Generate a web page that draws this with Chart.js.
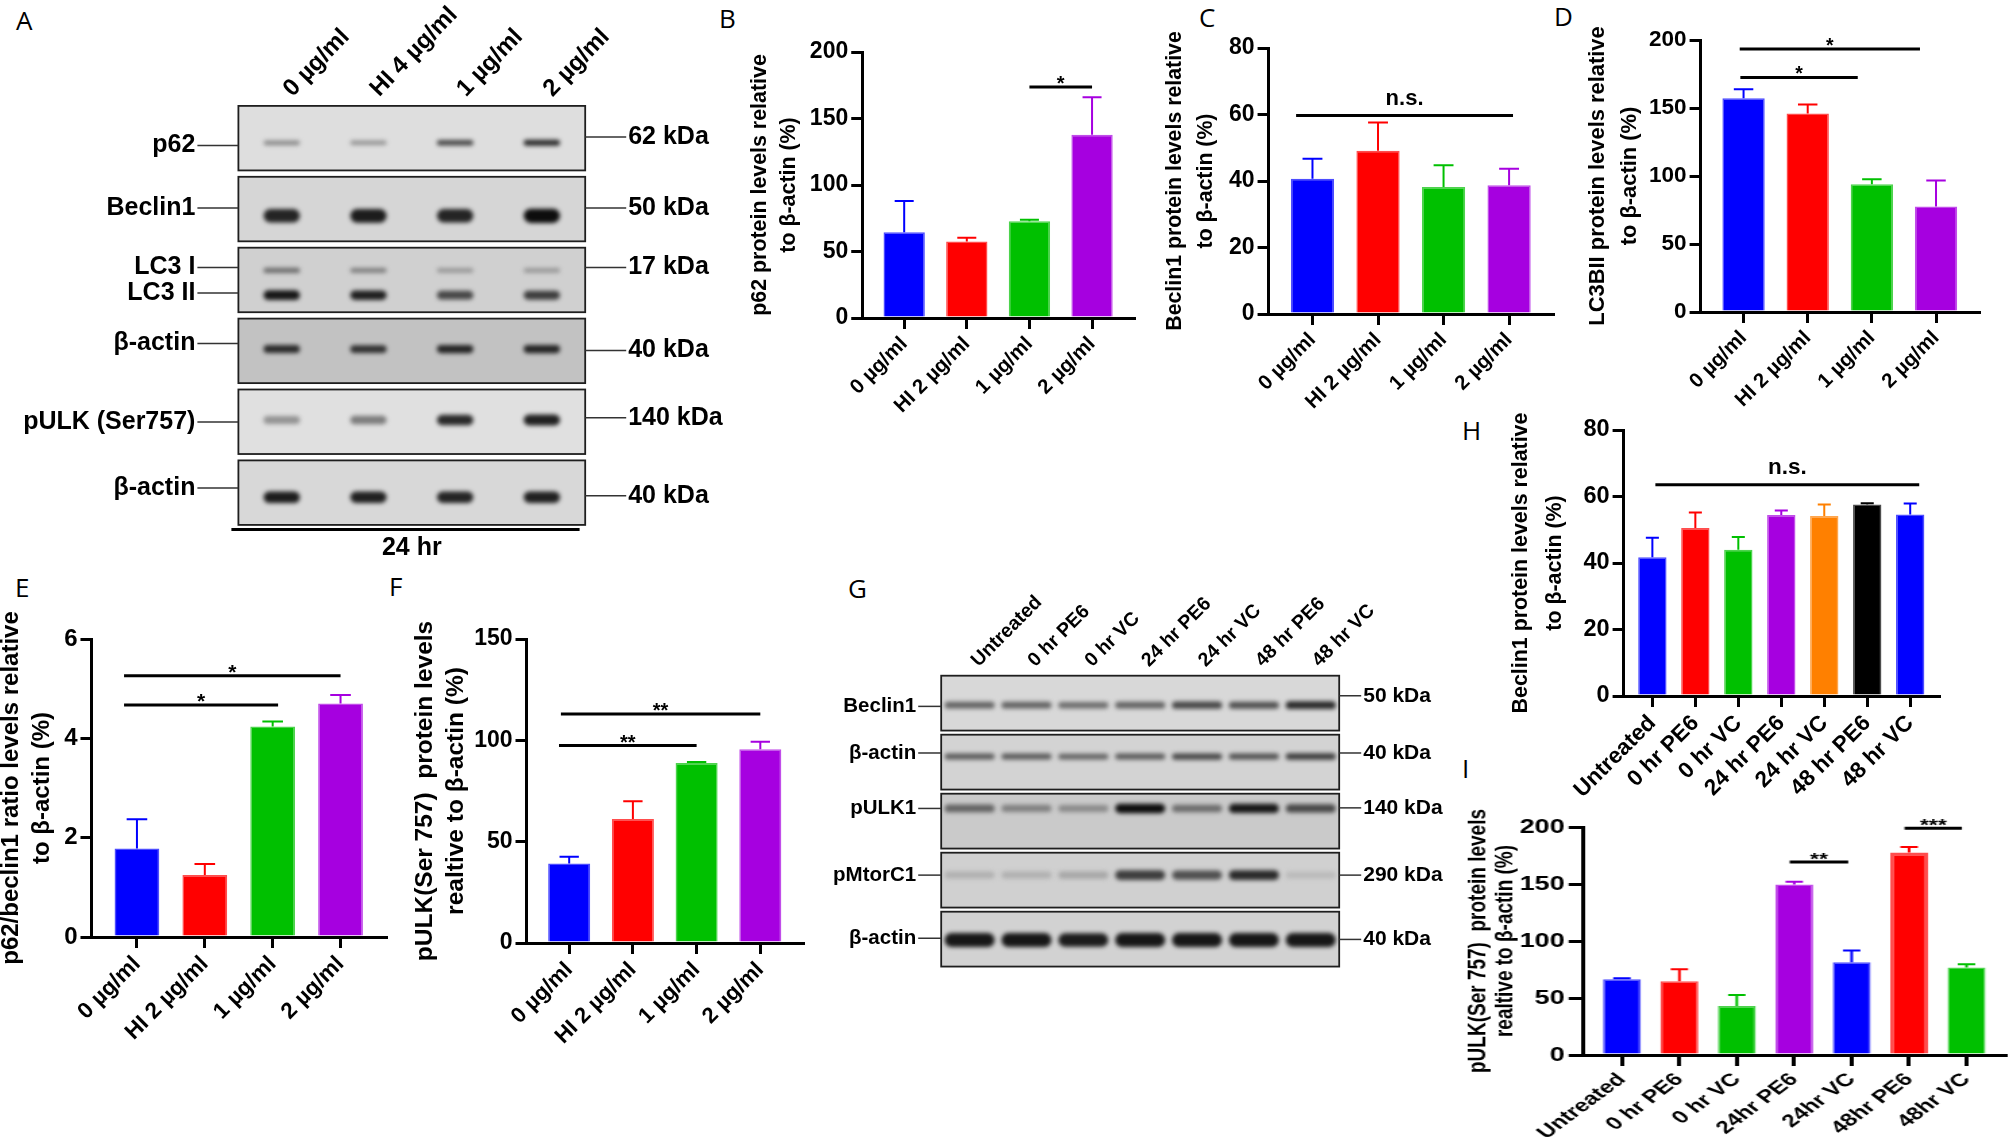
<!DOCTYPE html>
<html>
<head>
<meta charset="utf-8">
<script src="https://cdn.jsdelivr.net/npm/chart.js@4.4.1/dist/chart.umd.min.js"></script>
<style>
  html, body { margin: 0; padding: 0; width: 2008px; height: 1142px; overflow: hidden; background: #fff; }
  .letter { position: absolute; font-family: "Open Sans", sans-serif; font-size: 26px; line-height: 26px; color: #000; }
</style>
</head>
<body>
<div class="letter" style="left:16px;top:7px">A</div>
<div class="letter" style="left:719px;top:5px">B</div>
<div class="letter" style="left:1199px;top:4px">C</div>
<div class="letter" style="left:1554px;top:3px">D</div>
<div class="letter" style="left:15px;top:574px">E</div>
<div class="letter" style="left:389px;top:573px">F</div>
<div class="letter" style="left:848px;top:575px">G</div>
<div class="letter" style="left:1462px;top:417px">H</div>
<div class="letter" style="left:1462px;top:755px">I</div>
<script>
// ---- categories ----
const doseLabels = ["0 µg/ml", "HI 2 µg/ml", "1 µg/ml", "2 µg/ml"];
const timeLabelsH = ["Untreated", "0 hr PE6", "0 hr VC", "24 hr PE6", "24 hr VC", "48 hr PE6", "48 hr VC"];
const timeLabelsI = ["Untreated", "0 hr PE6", "0 hr VC", "24hr PE6", "24hr VC", "48hr PE6", "48hr VC"];

// ---- bar means and upper error ----
const p62Mean = [64.4, 57.6, 72.7, 137.8];
const p62Err = [23.6, 2.8, 1.2, 28.1];
const beclinMean = [40.7, 49.1, 38.2, 38.7];
const beclinErr = [6.0, 8.5, 6.5, 5.0];
const lc3Mean = [157.1, 146.0, 94.0, 77.5];
const lc3Err = [6.7, 6.6, 3.7, 19.1];
const ratioMean = [1.78, 1.25, 4.24, 4.70];
const ratioErr = [0.59, 0.22, 0.10, 0.17];
const pulkMean = [39.2, 61.2, 88.8, 95.6];
const pulkErr = [3.4, 8.7, 0.5, 3.7];
const beclinTimeMean = [41.7, 50.5, 44.0, 54.4, 54.1, 57.6, 54.6];
const beclinTimeErr = [5.9, 4.7, 3.8, 1.4, 3.5, 0.4, 3.3];
const pulkTimeMean = [66.5, 64.7, 43.0, 149.6, 81.4, 177.7, 76.7];
const pulkTimeErr = [0.8, 10.6, 9.7, 2.4, 10.3, 4.7, 2.9];

// ---- significance bars: [from, to, value, label] ----
const p62Sig = [[2, 3, 173.7, "*"]];
const beclinSig = [[-0.25, 3.06, 59.7, "n.s."]];
const lc3Sig = [[-0.05, 1.78, 172.5, "*"], [-0.06, 2.75, 193.4, "*"]];
const ratioSig = [[-0.19, 2.08, 4.67, "*"], [-0.19, 3.0, 5.26, "*"]];
const pulkSig = [[-0.16, 2.0, 97.4, "**"], [-0.13, 3.0, 113.0, "**"]];
const beclinTimeSig = [[0.07, 6.21, 63.5, "n.s."]];
const pulkTimeSig = [[2.92, 3.94, 169.3, "**"], [4.92, 5.92, 198.8, "***"]];

// ---- tick values ----
const ticks200 = [0, 50, 100, 150, 200];
const ticks150 = [0, 50, 100, 150];
const ticks80 = [0, 20, 40, 60, 80];
const ticks6 = [0, 2, 4, 6];

// ---- western blots: lanes, bands and relative band intensity ----
const blotALanes = ["0 µg/ml", "HI 4 µg/ml", "1 µg/ml", "2 µg/ml"];
const blotARows = ["p62", "Beclin1", "LC3 I", "LC3 II", "β-actin", "pULK (Ser757)", "β-actin"];
const blotAKda = ["62 kDa", "50 kDa", "17 kDa", "", "40 kDa", "140 kDa", "40 kDa"];
const p62BandA = [0.35, 0.3, 0.7, 0.85];
const beclinBandA = [0.88, 0.92, 0.88, 1.0];
const lc3iBandA = [0.5, 0.42, 0.28, 0.28];
const lc3iiBandA = [0.95, 0.9, 0.7, 0.75];
const actinBandA1 = [0.85, 0.82, 0.88, 0.88];
const pulkBandA = [0.3, 0.42, 0.85, 0.9];
const actinBandA2 = [0.92, 0.9, 0.88, 0.9];

const blotGLanes = ["Untreated", "0 hr PE6", "0 hr VC", "24 hr PE6", "24 hr VC", "48 hr PE6", "48 hr VC"];
const blotGRows = ["Beclin1", "β-actin", "pULK1", "pMtorC1", "β-actin"];
const blotGKda = ["50 kDa", "40 kDa", "140 kDa", "290 kDa", "40 kDa"];
const beclinBandG = [0.55, 0.55, 0.5, 0.55, 0.7, 0.65, 0.85];
const actinBandG1 = [0.6, 0.6, 0.55, 0.6, 0.7, 0.65, 0.75];
const pulk1BandG = [0.55, 0.4, 0.35, 1.0, 0.5, 0.95, 0.7];
const mtorBandG = [0.15, 0.15, 0.2, 0.75, 0.65, 0.85, 0.1];
const actinBandG2 = [0.95, 0.95, 0.92, 0.95, 0.95, 0.95, 0.95];

// ---- colours ----
const doseColors = ["#0000ff", "#ff0000", "#00c000", "#a600e0"];
const timeColorsH = ["#0000ff", "#ff0000", "#00c000", "#a600e0", "#ff8000", "#000000", "#0000ff"];
const timeColorsI = ["#0000ff", "#ff0000", "#00c000", "#a600e0", "#0000ff", "#ff0000", "#00c000"];

const FONT = '"Liberation Sans", Arial, Helvetica, sans-serif';
Chart.defaults.font.family = FONT;
Chart.defaults.color = "#000";

function makeCanvas(left, top, w, h, stretch) {
    const c = document.createElement("canvas");
    c.width = Math.round(w);
    c.height = Math.round(h);
    c.style.cssText = `position:absolute;left:${left}px;top:${top}px;width:${Math.round(w)}px;height:${Math.round(h)}px;` +
        (stretch && stretch !== 1 ? `transform:scaleX(${stretch});transform-origin:0 0;` : "");
    document.body.appendChild(c);
    return c;
}

function tint(hex, k) {
    const n = parseInt(hex.slice(1), 16);
    const mix = (v) => Math.round(v + (255 - v) * k);
    return `rgb(${mix(n >> 16)},${mix((n >> 8) & 255)},${mix(n & 255)})`;
}

function blotText(ctx, text, x, y, size, align, angle) {
    ctx.save();
    ctx.translate(x, y);
    if (angle) ctx.rotate(-angle * Math.PI / 180);
    ctx.font = `bold ${size}px ${FONT}`;
    ctx.textAlign = align;
    ctx.textBaseline = "middle";
    ctx.fillStyle = "#000";
    ctx.fillText(text, 0, 0);
    ctx.restore();
}

// one GraphPad-style bar graph with error bars and significance lines
function barPanel(cfg) {
    const { labels, means, errors, colors, ticks, sig, title, box, fonts } = cfg;
    const n = labels.length;
    const s = box.stretch || 1;
    const lineH = fonts.title * fonts.titleLH;
    const padTop = 60;
    const left = box.titleX - s * lineH / 2;
    const top = box.yTop - padTop;
    const width = (box.axisRight - left) / s + 6;
    const height = Math.min(box.yBottom - top + 130, 1142 - top);
    const yAxisW = (box.axisLeft - left) / s;
    const xAxisH = height - (box.yBottom - top);
    const canvas = makeCanvas(left, top, width, height, s);

    const marks = {
        id: "marks",
        afterDatasetsDraw(chart) {
            const { ctx, scales: { x, y } } = chart;
            const meta = chart.getDatasetMeta(0);
            ctx.save();
            ctx.lineWidth = 2;
            meta.data.forEach((bar, i) => {
                const yErr = y.getPixelForValue(means[i] + errors[i]);
                const cap = bar.width * 0.23;
                ctx.strokeStyle = colors[i];
                ctx.beginPath();
                ctx.moveTo(bar.x, bar.y);
                ctx.lineTo(bar.x, yErr);
                ctx.moveTo(bar.x - cap, yErr);
                ctx.lineTo(bar.x + cap, yErr);
                ctx.stroke();
            });
            ctx.strokeStyle = "#000";
            ctx.fillStyle = "#000";
            ctx.lineWidth = 3;
            ctx.textAlign = "center";
            ctx.textBaseline = "alphabetic";
            sig.forEach(([from, to, v, label]) => {
                const yy = y.getPixelForValue(v);
                const x1 = x.getPixelForValue(from);
                const x2 = x.getPixelForValue(to);
                ctx.beginPath();
                ctx.moveTo(x1, yy);
                ctx.lineTo(x2, yy);
                ctx.stroke();
                const star = label.startsWith("*");
                const size = star ? fonts.tick - 3 : fonts.tick - 1;
                ctx.font = `bold ${size}px ${FONT}`;
                ctx.fillText(label, (x1 + x2) / 2, star ? yy + 0.15 * size : yy - 0.48 * size);
            });
            ctx.restore();
        }
    };

    const axisGrid = (len) => ({ drawOnChartArea: false, drawTicks: true, tickLength: len, lineWidth: 3, color: "#000", offset: false });

    new Chart(canvas, {
        type: "bar",
        data: {
            datasets: [{
                data: means.map((v, i) => ({ x: i, y: v })),
                backgroundColor: colors,
                borderColor: colors.map((c) => tint(c, 0.3)),
                borderWidth: cfg.borderWidths || 1.5,
                barPercentage: 0.66,
                categoryPercentage: 1
            }]
        },
        options: {
            responsive: false,
            animation: false,
            layout: { padding: { top: padTop, right: 6, left: 0, bottom: 0 } },
            plugins: { legend: { display: false }, tooltip: { enabled: false } },
            scales: {
                x: {
                    type: "linear",
                    min: -0.67,
                    max: n - 1 + 0.67,
                    offset: false,
                    z: 1,
                    afterBuildTicks: (sc) => { sc.ticks = labels.map((_, i) => ({ value: i })); },
                    afterFit: (sc) => { sc.height = xAxisH; },
                    ticks: {
                        autoSkip: false,
                        minRotation: 45,
                        maxRotation: 45,
                        padding: 3,
                        color: "#000",
                        font: { size: fonts.xlabel, weight: "bold" },
                        callback: (v) => labels[v]
                    },
                    grid: axisGrid(11),
                    border: { width: 3, color: "#000" }
                },
                y: {
                    min: ticks[0],
                    max: ticks[ticks.length - 1],
                    z: 1,
                    afterBuildTicks: (sc) => { sc.ticks = ticks.map((v) => ({ value: v })); },
                    afterFit: (sc) => { sc.width = yAxisW; },
                    ticks: { padding: 3, color: "#000", font: { size: fonts.tick, weight: "bold" } },
                    title: {
                        display: true,
                        text: title,
                        color: "#000",
                        padding: 0,
                        font: { size: fonts.title, weight: "bold", lineHeight: fonts.titleLH }
                    },
                    grid: axisGrid(11),
                    border: { width: 3, color: "#000" }
                }
            }
        },
        plugins: [marks]
    });
}

function bandGray(v) {
    const g = Math.round(205 - 192 * v);
    return `rgb(${g},${g},${g})`;
}

// western blot strips: bands are floating bars on lane / strip scales
function blotPanel(cfg) {
    const b = cfg.box;
    const nStrips = cfg.stripColors.length;
    const yMax = nStrips - 1 + cfg.stripH;
    const areaBottom = b.areaTop + yMax * b.unit;
    const canvas = makeCanvas(b.left, b.top, b.width, b.height);

    const datasets = cfg.bands.map((row, r) => ({
        data: row.map((v, i) => {
            const c = cfg.strip[r] + cfg.frac[r];
            const half = cfg.thick[r] * (0.6 + 0.4 * v) / 2;
            return { x: i, y: [c - half, c + half] };
        }),
        backgroundColor: row.map(bandGray),
        grouped: false,
        barPercentage: cfg.bandWidth,
        categoryPercentage: 1,
        borderRadius: 9,
        borderSkipped: false,
        borderWidth: 0
    }));

    const frame = {
        id: "frame",
        beforeDatasetsDraw(chart) {
            const { ctx, chartArea: a, scales: { y } } = chart;
            ctx.save();
            cfg.stripColors.forEach((col, s) => {
                const y1 = y.getPixelForValue(s);
                const y2 = y.getPixelForValue(s + cfg.stripH);
                ctx.fillStyle = col;
                ctx.fillRect(a.left, y1, a.right - a.left, y2 - y1);
            });
            ctx.restore();
            ctx.save();
            ctx.filter = `blur(${cfg.blur}px)`;
        },
        afterDatasetsDraw(chart) {
            const { ctx, chartArea: a, scales: { x, y } } = chart;
            ctx.restore();
            ctx.save();
            ctx.strokeStyle = "#1e1e1e";
            ctx.lineWidth = 1.8;
            cfg.stripColors.forEach((col, s) => {
                const y1 = y.getPixelForValue(s);
                const y2 = y.getPixelForValue(s + cfg.stripH);
                ctx.strokeRect(a.left, y1, a.right - a.left, y2 - y1);
            });
            ctx.lineWidth = 1.5;
            ctx.strokeStyle = "#333";
            cfg.names.forEach((name, r) => {
                const yy = y.getPixelForValue(cfg.strip[r] + cfg.nameFrac[r]);
                ctx.beginPath();
                ctx.moveTo(a.left - cfg.nameGap + 2, yy);
                ctx.lineTo(a.left, yy);
                ctx.stroke();
                blotText(ctx, name, a.left - cfg.nameGap, yy, cfg.nameSize, "right");
                if (cfg.kda[r]) {
                    const yk = y.getPixelForValue(cfg.strip[r] + cfg.kdaFrac[r]);
                    ctx.beginPath();
                    ctx.moveTo(a.right, yk);
                    ctx.lineTo(a.right + cfg.kdaGap - 2, yk);
                    ctx.stroke();
                    blotText(ctx, cfg.kda[r], a.right + cfg.kdaGap, yk, cfg.kdaSize, "left");
                }
            });
            cfg.lanes.forEach((lane, i) => {
                blotText(ctx, lane, x.getPixelForValue(i) + cfg.laneDx, a.top - cfg.laneGap, cfg.laneSize, "left", cfg.laneAngle);
            });
            if (cfg.footer) {
                ctx.strokeStyle = "#000";
                ctx.lineWidth = 3;
                ctx.beginPath();
                ctx.moveTo(a.left - 7, a.bottom + 4.7);
                ctx.lineTo(a.right - 5.6, a.bottom + 4.7);
                ctx.stroke();
                blotText(ctx, cfg.footer, (a.left + a.right) / 2, a.bottom + 22.7, cfg.nameSize, "center");
            }
            ctx.restore();
        }
    };

    new Chart(canvas, {
        type: "bar",
        data: { datasets },
        options: {
            responsive: false,
            animation: false,
            layout: {
                padding: {
                    left: b.areaLeft - b.left,
                    right: b.left + b.width - b.areaRight,
                    top: b.areaTop - b.top,
                    bottom: b.top + b.height - areaBottom
                }
            },
            plugins: { legend: { display: false }, tooltip: { enabled: false } },
            scales: {
                x: { type: "linear", display: false, offset: false, min: -0.5, max: cfg.lanes.length - 0.5 },
                y: { display: false, reverse: true, min: 0, max: yMax }
            }
        },
        plugins: [frame]
    });
}

// ---- panel A ----
blotPanel({
    lanes: blotALanes,
    names: blotARows,
    kda: blotAKda,
    bands: [p62BandA, beclinBandA, lc3iBandA, lc3iiBandA, actinBandA1, pulkBandA, actinBandA2],
    strip: [0, 1, 2, 2, 3, 4, 5],
    frac: [0.52, 0.55, 0.32, 0.67, 0.43, 0.43, 0.52],
    thick: [0.09, 0.2, 0.09, 0.14, 0.12, 0.16, 0.17],
    nameFrac: [0.56, 0.44, 0.28, 0.64, 0.35, 0.46, 0.39],
    kdaFrac: [0.44, 0.44, 0.28, 0, 0.45, 0.40, 0.50],
    stripColors: ["#dedede", "#d6d6d6", "#d0d0d0", "#c2c2c2", "#e0e0e0", "#d8d8d8"],
    stripH: 0.91,
    bandWidth: 0.84,
    blur: 2.3,
    nameGap: 43, kdaGap: 43, nameSize: 25, kdaSize: 25,
    laneSize: 24, laneAngle: 46, laneDx: 6, laneGap: 13,
    footer: "24 hr",
    box: { left: 0, top: 0, width: 740, height: 563, areaLeft: 238.4, areaRight: 585.2, areaTop: 105.9, unit: 70.9 }
});

// ---- panel G ----
blotPanel({
    lanes: blotGLanes,
    names: blotGRows,
    kda: blotGKda,
    bands: [beclinBandG, actinBandG1, pulk1BandG, mtorBandG, actinBandG2],
    strip: [0, 1, 2, 3, 4],
    frac: [0.50, 0.37, 0.25, 0.38, 0.48],
    thick: [0.14, 0.12, 0.16, 0.18, 0.24],
    nameFrac: [0.52, 0.31, 0.25, 0.38, 0.45],
    kdaFrac: [0.34, 0.31, 0.24, 0.38, 0.47],
    stripColors: ["#d8d8d8", "#d3d3d3", "#cacaca", "#d0d0d0", "#d2d2d2"],
    stripH: 0.93,
    bandWidth: 0.88,
    blur: 2.3,
    nameGap: 25, kdaGap: 24, nameSize: 20.5, kdaSize: 21,
    laneSize: 19.5, laneAngle: 45, laneDx: 5, laneGap: 12,
    box: { left: 820, top: 560, width: 640, height: 420, areaLeft: 941.2, areaRight: 1339.2, areaTop: 675.7, unit: 59 }
});

// ---- bar panels ----
barPanel({
    labels: doseLabels, means: p62Mean, errors: p62Err, colors: doseColors, ticks: ticks200, sig: p62Sig,
    title: ["p62 protein levels relative", "to β-actin (%)"],
    fonts: { title: 21.4, titleLH: 1.33, tick: 23, xlabel: 20.5 },
    box: { axisLeft: 862, axisRight: 1134, yTop: 52, yBottom: 318, titleX: 760 }
});
barPanel({
    labels: doseLabels, means: beclinMean, errors: beclinErr, colors: doseColors, ticks: ticks80, sig: beclinSig,
    title: ["Beclin1 protein levels relative", "to β-actin (%)"],
    fonts: { title: 21.3, titleLH: 1.49, tick: 23, xlabel: 20.5 },
    box: { axisLeft: 1269, axisRight: 1553, yTop: 48.3, yBottom: 314.3, titleX: 1175.3 }
});
barPanel({
    labels: doseLabels, means: lc3Mean, errors: lc3Err, colors: doseColors, ticks: ticks200, sig: lc3Sig,
    title: ["LC3BII protein levels relative", "to β-actin (%)"],
    fonts: { title: 21.9, titleLH: 1.45, tick: 22.5, xlabel: 20.5 },
    box: { axisLeft: 1701, axisRight: 1979, yTop: 40, yBottom: 311.7, titleX: 1598.3 }
});
barPanel({
    labels: doseLabels, means: ratioMean, errors: ratioErr, colors: doseColors, ticks: ticks6, sig: ratioSig,
    title: ["p62/beclin1 ratio levels relative", "to β-actin (%)"],
    fonts: { title: 24, titleLH: 1.29, tick: 24, xlabel: 22.5 },
    box: { axisLeft: 91.7, axisRight: 386.7, yTop: 639.3, yBottom: 937.7, titleX: 11.7 }
});
barPanel({
    labels: doseLabels, means: pulkMean, errors: pulkErr, colors: doseColors, ticks: ticks150, sig: pulkSig,
    title: ["pULK(Ser 757)  protein levels", "realtive to β-actin (%)"],
    fonts: { title: 24.5, titleLH: 1.29, tick: 23, xlabel: 22 },
    box: { axisLeft: 526.7, axisRight: 803, yTop: 638.5, yBottom: 942.5, titleX: 425 }
});
barPanel({
    labels: timeLabelsH, means: beclinTimeMean, errors: beclinTimeErr, colors: timeColorsH, ticks: ticks80, sig: beclinTimeSig,
    title: ["Beclin1 protein levels relative", "to β-actin (%)"],
    fonts: { title: 21.4, titleLH: 1.55, tick: 23.5, xlabel: 22.5 },
    box: { axisLeft: 1623.2, axisRight: 1938.2, yTop: 430, yBottom: 696, titleX: 1521.2 }
});
barPanel({
    labels: timeLabelsI, means: pulkTimeMean, errors: pulkTimeErr, colors: timeColorsI, ticks: ticks200, sig: pulkTimeSig,
    title: ["pULK(Ser 757)  protein levels", "realtive to β-actin (%)"],
    borderWidths: [1.5, 1.5, 1.5, 1.5, 1.5, 3, 1.5],
    fonts: { title: 19, titleLH: 1.05, tick: 20, xlabel: 18 },
    box: { axisLeft: 1583.3, axisRight: 2005, yTop: 827.3, yBottom: 1055, titleX: 1478.3, stretch: 1.35 }
});
</script>
</body>
</html>
